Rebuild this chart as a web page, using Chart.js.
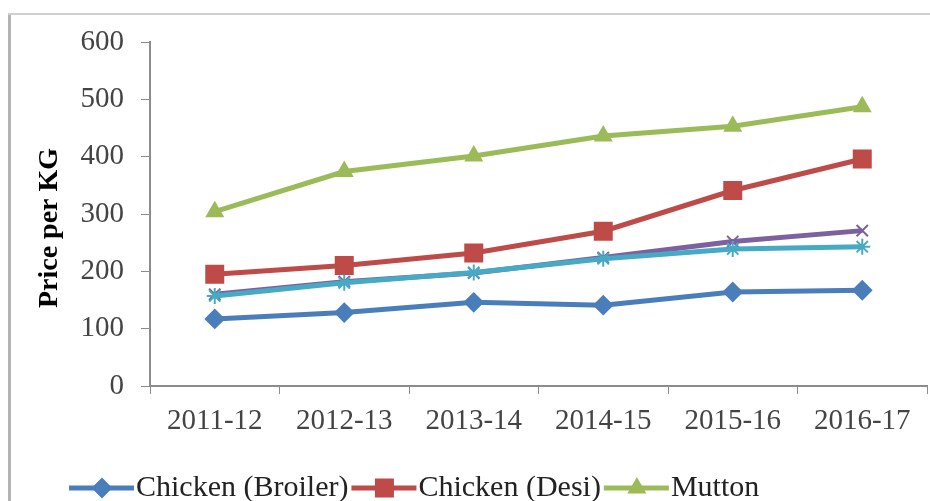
<!DOCTYPE html>
<html>
<head>
<meta charset="utf-8">
<script src="https://cdn.jsdelivr.net/npm/chart.js@4.4.1/dist/chart.umd.min.js"></script>
<style>
  html, body { margin: 0; padding: 0; background: #fff; overflow: hidden; }
  #wrap { width: 930px; height: 501px; position: relative; }
  #myChart { display: block; }
</style>
</head>
<body>
<div id="wrap"><canvas id="myChart"></canvas></div>
<script>
const years = ['2011-12', '2012-13', '2013-14', '2014-15', '2015-16', '2016-17'];
const broiler = [117, 128, 146, 141, 164, 167];
const desi = [195, 210, 232, 270, 341, 396];
const mutton = [304, 374, 401, 436, 453, 487];
const beef = [160, 182, 197, 224, 252, 271];
const fish = [157, 180, 198, 222, 239, 243];
const yTicks = [0, 100, 200, 300, 400, 500, 600];

const serif = "'Liberation Serif', 'Times New Roman', serif";
const LEGEND_BOX = 52;

// white background + grey frame like the cropped Excel chart
const framePlugin = {
  id: 'frame',
  beforeDraw(chart) {
    const c = chart.ctx;
    c.save();
    c.fillStyle = '#fff';
    c.fillRect(0, 0, chart.width, chart.height);
    c.fillStyle = '#b4b4b4';
    c.fillRect(8, 13, 3, chart.height - 13);
    c.fillStyle = '#d0d0d0';
    c.fillRect(8, 13, chart.width - 8, 2);
    c.restore();
  },
  afterLayout(chart) {
    // legend sits a bit left and low, like Excel's
    const lg = chart.legend;
    if (lg) {
      lg.left += 54; lg.right += 54;
      lg.top += 12; lg.bottom += 12;
    }
  },
  afterDraw(chart) {
    // excel style legend key: line with the marker on it
    const lg = chart.legend;
    if (!lg || !lg.legendHitBoxes) return;
    const c = chart.ctx;
    c.save();
    lg.legendHitBoxes.forEach((hb, i) => {
      const ds = chart.data.datasets[lg.legendItems[i].datasetIndex];
      const y = hb.top + hb.height / 2;
      c.strokeStyle = ds.borderColor;
      c.lineWidth = ds.borderWidth;
      c.beginPath();
      c.moveTo(hb.left, y);
      c.lineTo(hb.left + LEGEND_BOX + 13, y);
      c.stroke();
      c.fillStyle = ds.pointBackgroundColor;
      c.strokeStyle = ds.pointBorderColor;
      c.lineWidth = 2;
      Chart.helpers.drawPoint(c, { pointStyle: ds.pointStyle, radius: ds.pointRadius, rotation: 0, borderWidth: 2 },
        hb.left + 33, y);
    });
    c.restore();
  }
};

const cty = document.getElementById('myChart');

function serie(label, data, color, style, radius) {
  return {
    label: label,
    data: data,
    borderColor: color,
    backgroundColor: color,
    pointBackgroundColor: color,
    pointBorderColor: color,
    borderWidth: 5,
    pointStyle: style,
    pointRadius: radius,
    pointBorderWidth: 2,
    tension: 0
  };
}

const myChart = new Chart(cty, {
  type: 'line',
  data: {
    labels: years,
    datasets: [
      serie('Fish', fish, '#46AAC5', 'star', 8),
      serie('Beef', beef, '#7D60A0', 'crossRot', 8),
      serie('Chicken (Broiler)', broiler, '#4A7EBB', 'rectRot', 9),
      serie('Chicken (Desi)', desi, '#BE4B48', 'rect', 12),
      serie('Mutton', mutton, '#9BBB59', 'triangle', 9)
    ]
  },
  options: {
    responsive: true,
    maintainAspectRatio: false,
    animation: false,
    layout: { autoPadding: false, padding: { left: 12, right: 3, top: 42, bottom: 0 } },
    scales: {
      x: {
        offset: true,
        grid: { display: true, drawOnChartArea: false, offset: true, tickLength: 8, color: '#8c8c8c' },
        border: { color: '#8c8c8c', width: 2 },
        ticks: { color: '#444', padding: 10, font: { family: serif, size: 29 } },
        afterFit: (s) => { s.height = 72; s.paddingLeft = 0; s.paddingRight = 0; }
      },
      y: {
        min: 0,
        max: 600,
        afterBuildTicks: (s) => { s.ticks = yTicks.map(v => ({ value: v })); },
        grid: { display: true, drawOnChartArea: false, tickLength: 9, color: '#8c8c8c' },
        border: { color: '#8c8c8c', width: 2 },
        ticks: { color: '#444', padding: 17, font: { family: serif, size: 29 } },
        title: {
          display: true,
          text: 'Price per KG    ',
          color: '#000',
          padding: { top: 21, bottom: 0 },
          font: { family: serif, size: 28, weight: 'bold' }
        },
        afterFit: (s) => { s.width = 138; }
      }
    },
    plugins: {
      legend: {
        position: 'bottom',
        align: 'start',
        labels: {
          filter: (item) => item.text.indexOf('Chicken') === 0 || item.text === 'Mutton',
          generateLabels: (chart) => {
            const items = Chart.defaults.plugins.legend.labels.generateLabels(chart);
            return items.map(it => Object.assign(it, { fillStyle: 'rgba(0,0,0,0)', strokeStyle: 'rgba(0,0,0,0)', lineWidth: 0 }));
          },
          boxWidth: LEGEND_BOX,
          boxHeight: 16,
          padding: 3,
          color: '#222',
          font: { family: serif, size: 30 }
        }
      },
      tooltip: { enabled: false }
    }
  },
  plugins: [framePlugin]
});
</script>
</body>
</html>
